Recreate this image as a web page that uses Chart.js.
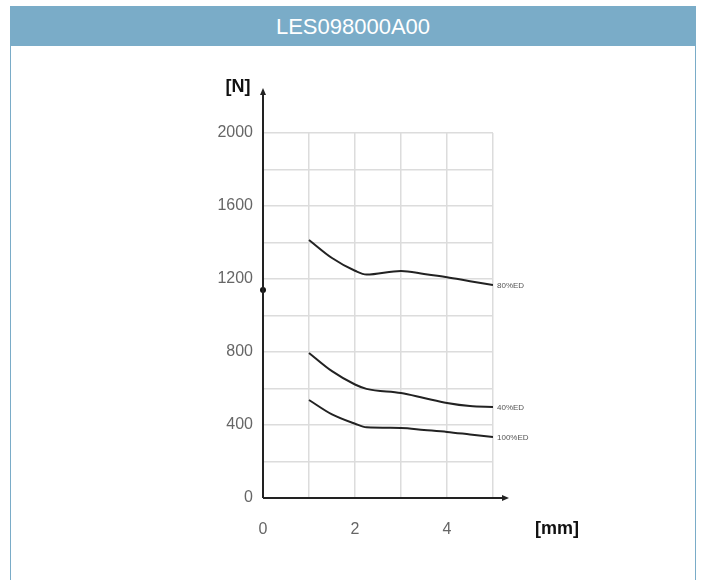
<!DOCTYPE html>
<html>
<head>
<meta charset="utf-8">
<script src="https://cdn.jsdelivr.net/npm/chart.js@4"></script>
<style>
    body { margin: 0; background: #fff; font-family: "Liberation Sans", Arial, sans-serif; }
    .panel { position: absolute; left: 10px; top: 6px; width: 684px; height: 580px; border: 1px solid #7aacc8; border-bottom: none; }
    .panel-head { height: 39px; background: #7aacc8; color: #fff; font-size: 22px; line-height: 40px; text-align: center; }
    #chartWrap { position: absolute; left: 0; top: 0; width: 701px; height: 580px; }
</style>
</head>
<body>
<div class="panel"><div class="panel-head">LES098000A00</div></div>
<div id="chartWrap"><canvas id="forceChart"></canvas></div>
<script>
// Stroke (mm) vs force (N)
const stroke = [1, 1.5, 2, 2.25, 3, 3.5, 4, 4.5, 5];
const ed80 = [1414, 1315, 1245, 1224, 1244, 1228, 1210, 1188, 1167];
const ed40 = [795, 695, 622, 598, 575, 548, 521, 504, 499];
const ed100 = [537, 458, 407, 387, 384, 373, 362, 348, 334];
const seriesNames = ['80%ED', '40%ED', '100%ED'];
const markerPoint = [{ x: 0, y: 1140 }];
const xTicks = [0, 2, 4];
const yTicks = [0, 400, 800, 1200, 1600, 2000];

function toPoints(ys) {
    return stroke.map((x, i) => ({ x: x, y: ys[i] }));
}

const lineStyle = {
    borderColor: '#222',
    borderWidth: 2,
    pointRadius: 0,
    cubicInterpolationMode: 'monotone',
    fill: false
};

const tickFont = { size: 16, family: '"Liberation Sans", Arial, sans-serif' };

// arrows on the axes, series names, axis units
const decorations = {
    id: 'decorations',
    afterDatasetsDraw(chart) {
        const ctx = chart.ctx;
        const xs = chart.scales.x, ys = chart.scales.y;
        const x0 = xs.getPixelForValue(0), y0 = ys.getPixelForValue(0);
        const yTop = ys.getPixelForValue(2000) - 40;
        const xEnd = xs.getPixelForValue(5) + 11;

        ctx.save();
        ctx.strokeStyle = '#222';
        ctx.fillStyle = '#222';
        ctx.lineWidth = 2;
        ctx.beginPath();
        ctx.moveTo(x0, y0);
        ctx.lineTo(x0, yTop);
        ctx.moveTo(x0, y0);
        ctx.lineTo(xEnd, y0);
        ctx.stroke();
        ctx.beginPath();
        ctx.moveTo(x0, yTop - 5);
        ctx.lineTo(x0 - 3, yTop + 2);
        ctx.lineTo(x0 + 3, yTop + 2);
        ctx.closePath();
        ctx.fill();
        ctx.beginPath();
        ctx.moveTo(xEnd + 5, y0);
        ctx.lineTo(xEnd - 2, y0 - 3);
        ctx.lineTo(xEnd - 2, y0 + 3);
        ctx.closePath();
        ctx.fill();

        ctx.fillStyle = '#111';
        ctx.font = 'bold 18px "Liberation Sans", Arial, sans-serif';
        ctx.textAlign = 'center';
        ctx.textBaseline = 'middle';
        ctx.fillText('[N]', x0 - 25, yTop - 6);
        ctx.fillText('[mm]', xEnd + 53, y0 + 31);

        ctx.font = '8px "Liberation Sans", Arial, sans-serif';
        ctx.fillStyle = '#555';
        ctx.textAlign = 'left';
        seriesNames.forEach((name, i) => {
            const meta = chart.getDatasetMeta(i);
            const last = meta.data[meta.data.length - 1];
            ctx.fillText(name, last.x + 4, last.y + 1);
        });
        ctx.restore();
    }
};

const ctx = document.getElementById('forceChart').getContext('2d');
new Chart(ctx, {
    type: 'line',
    data: {
        datasets: [
            Object.assign({ label: seriesNames[0], data: toPoints(ed80) }, lineStyle),
            Object.assign({ label: seriesNames[1], data: toPoints(ed40) }, lineStyle),
            Object.assign({ label: seriesNames[2], data: toPoints(ed100) }, lineStyle),
            { type: 'scatter', label: 'marker', data: markerPoint, pointRadius: 3, backgroundColor: '#111', borderWidth: 0, clip: false }
        ]
    },
    options: {
        responsive: true,
        maintainAspectRatio: false,
        animation: false,
        layout: { padding: { top: 133, right: 208, left: 0, bottom: 0 } },
        plugins: {
            legend: { display: false },
            tooltip: { enabled: false }
        },
        scales: {
            x: {
                type: 'linear',
                min: 0,
                max: 5,
                border: { display: false },
                grid: {
                    drawTicks: false,
                    lineWidth: 1.5,
                    color: c => c.tick.value === 0 ? 'rgba(0,0,0,0)' : '#dcdcdc'
                },
                ticks: {
                    stepSize: 1,
                    padding: 22,
                    color: '#666',
                    font: tickFont,
                    callback: v => xTicks.includes(v) ? v : ''
                },
                afterFit: scale => { scale.height = 82; }
            },
            y: {
                min: 0,
                max: 2000,
                border: { display: false },
                grid: {
                    drawTicks: false,
                    lineWidth: 1.5,
                    color: c => c.tick.value === 0 ? 'rgba(0,0,0,0)' : '#dcdcdc'
                },
                ticks: {
                    stepSize: 200,
                    padding: 10,
                    color: '#666',
                    font: tickFont,
                    callback: v => yTicks.includes(v) ? v : ''
                },
                afterFit: scale => { scale.width = 263; }
            }
        }
    },
    plugins: [decorations]
});
</script>
</body>
</html>
